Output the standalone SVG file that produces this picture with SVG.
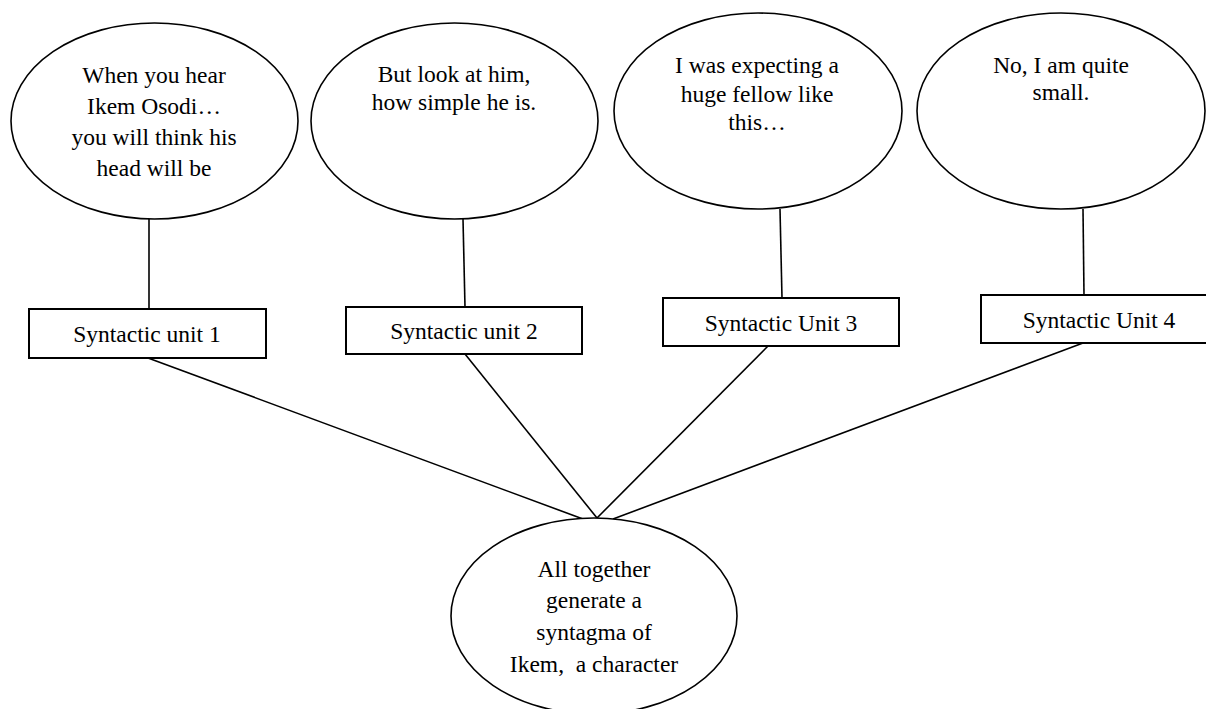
<svg xmlns="http://www.w3.org/2000/svg" width="1206" height="709" viewBox="0 0 1206 709">
<style>
.sh{fill:#fff;stroke:#000;stroke-width:1.6}
.bx{fill:#fff;stroke:#000;stroke-width:2}
.ln{stroke:#000;stroke-width:1.6;fill:none}
text{font-family:"Liberation Serif","Times New Roman",serif;font-size:23.5px;fill:#000;text-anchor:middle}
</style>
<rect width="1206" height="709" fill="#fff"/>
<g id="connectors">
<line class="ln" x1="149" y1="219" x2="149" y2="309"/>
<line class="ln" x1="463" y1="219" x2="465" y2="307"/>
<line class="ln" x1="780" y1="209" x2="782" y2="298"/>
<line class="ln" x1="1083" y1="209" x2="1084" y2="295"/>
<line class="ln" x1="148" y1="358" x2="583" y2="519"/>
<line class="ln" x1="465" y1="354" x2="597" y2="518"/>
<line class="ln" x1="768" y1="346" x2="597" y2="518"/>
<line class="ln" x1="1083" y1="343" x2="613" y2="519"/>
</g>
<g id="bubble1">
<ellipse class="sh" cx="154.5" cy="121" rx="143.5" ry="98"/>
<text x="154" y="83">When you hear</text>
<text x="154" y="114">Ikem Osodi…</text>
<text x="154" y="145">you will think his</text>
<text x="154" y="176">head will be</text>
</g>
<g id="bubble2">
<ellipse class="sh" cx="454.5" cy="121" rx="143.5" ry="98"/>
<text x="454" y="82">But look at him,</text>
<text x="454" y="110">how simple he is.</text>
</g>
<g id="bubble3">
<ellipse class="sh" cx="758" cy="111" rx="144" ry="98"/>
<text x="757" y="73">I was expecting a</text>
<text x="757" y="102">huge fellow like</text>
<text x="757" y="130">this…</text>
</g>
<g id="bubble4">
<ellipse class="sh" cx="1061" cy="111" rx="144" ry="98"/>
<text x="1061" y="73">No, I am quite</text>
<text x="1061" y="100">small.</text>
</g>
<g id="unit1">
<rect class="bx" x="29" y="309" width="237" height="49"/>
<text x="147" y="342">Syntactic unit 1</text>
</g>
<g id="unit2">
<rect class="bx" x="346" y="307" width="236" height="47"/>
<text x="464" y="339">Syntactic unit 2</text>
</g>
<g id="unit3">
<rect class="bx" x="663" y="298" width="236" height="48"/>
<text x="781" y="331">Syntactic Unit 3</text>
</g>
<g id="unit4">
<rect class="bx" x="981" y="295" width="236" height="48"/>
<text x="1099" y="328">Syntactic Unit 4</text>
</g>
<g id="syntagma">
<ellipse class="sh" cx="594" cy="616" rx="143" ry="98"/>
<text x="594" y="577">All together</text>
<text x="594" y="608">generate a</text>
<text x="594" y="640">syntagma of</text>
<text x="594" y="672" xml:space="preserve">Ikem,  a character</text>
</g>
</svg>
